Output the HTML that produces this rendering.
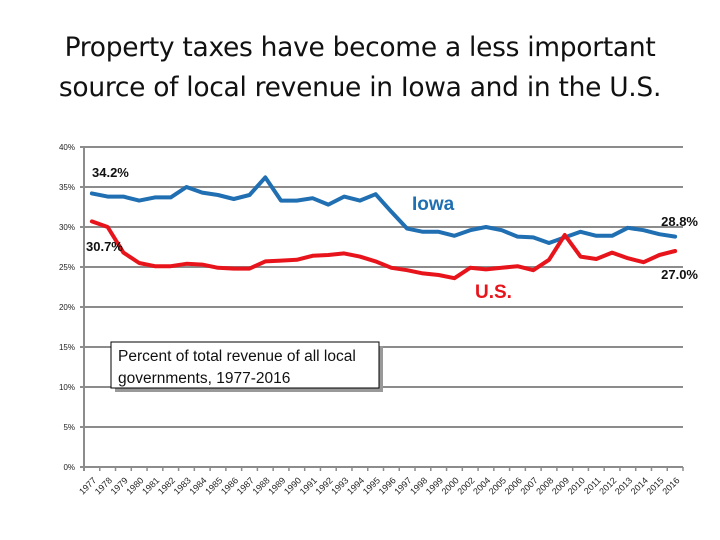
<!DOCTYPE html>
<html><head><meta charset="utf-8">
<style>
body{margin:0;background:#fff;}
#wrap{position:relative;width:720px;height:540px;overflow:hidden;font-family:"Liberation Sans",sans-serif;}
#title{position:absolute;left:0;top:28px;width:720px;text-align:center;font-family:"DejaVu Sans","Liberation Sans",sans-serif;font-size:26.5px;line-height:40px;color:#111;letter-spacing:-0.3px;}
</style></head>
<body>
<div id="wrap">
<div id="title">Property taxes have become a less important<br>source of local revenue in Iowa and in the U.S.</div>
<svg id="chart" width="720" height="540" style="position:absolute;left:0;top:0"></svg>
</div>
<script>
const years=['1977','1978','1979','1980','1981','1982','1983','1984','1985','1986','1987','1988','1989','1990','1991','1992','1993','1994','1995','1996','1997','1998','1999','2000','2002','2004','2005','2006','2007','2008','2009','2010','2011','2012','2013','2014','2015','2016'];
const iowa=[34.2,33.8,33.8,33.3,33.7,33.7,35.0,34.3,34.0,33.5,34.0,36.2,33.3,33.3,33.6,32.8,33.8,33.3,34.1,31.9,29.8,29.4,29.4,28.9,29.6,30.0,29.6,28.8,28.7,28.0,28.7,29.4,28.9,28.9,29.9,29.6,29.1,28.8];
const us=[30.7,30.0,26.8,25.5,25.1,25.1,25.4,25.3,24.9,24.8,24.8,25.7,25.8,25.9,26.4,26.5,26.7,26.3,25.7,24.9,24.6,24.2,24.0,23.6,24.9,24.7,24.9,25.1,24.6,25.9,29.0,26.3,26.0,26.8,26.1,25.6,26.5,27.0];
const yTicks=[0,5,10,15,20,25,30,35,40];
const NS='http://www.w3.org/2000/svg';
const svg=document.getElementById('chart');
const X0=84,X1=683,Y0=467,Y1=147;
const band=(X1-X0)/years.length;
function xs(i){return X0+(i+0.5)*band;}
function ys(v){return Y0-(v/40)*(Y0-Y1);}
function mk(t,a){const e=document.createElementNS(NS,t);for(const k in a)e.setAttribute(k,a[k]);svg.appendChild(e);return e;}
yTicks.forEach(v=>{
  const g=mk('line',{x1:X0-4,x2:X1,y1:ys(v),y2:ys(v),stroke:'#8c8c8c','stroke-width':2});
  
  
  const t=mk('text',{x:X0-9,y:ys(v)+3,'text-anchor':'end','font-size':8,fill:'#222','font-family':'Liberation Sans, sans-serif'});
  t.textContent=v+'%';
  
  
});
const ax=mk('line',{x1:X0,x2:X0,y1:Y1,y2:Y0+4,stroke:'#8c8c8c','stroke-width':2});


years.forEach((y,i)=>{
  const tk=mk('line',{x1:X0+(i+1)*band,x2:X0+(i+1)*band,y1:Y0,y2:Y0+4,stroke:'#8c8c8c','stroke-width':1.5});
  
  
  const cx=xs(i)+5,cy=Y0+14;
  const t=mk('text',{x:cx,y:cy,'text-anchor':'end','font-size':9,fill:'#222','font-family':'Liberation Sans, sans-serif',transform:`rotate(-45 ${cx} ${cy})`});
  t.textContent=y;
  
  
});
function line(data,color,name){
  const p=mk('polyline',{points:data.map((v,i)=>xs(i)+','+ys(v)).join(' '),fill:'none',stroke:color,'stroke-width':4,'stroke-linejoin':'round','stroke-linecap':'round'});
  
  
}
line(iowa,'#1f6fb2','iowa-line');
line(us,'#e8141b','us-line');
function lab(x,y,txt,size,color,name,anchor){
  const t=mk('text',{x:x,y:y,'font-size':size,'font-weight':'bold',fill:color,'font-family':'Liberation Sans, sans-serif','text-anchor':anchor||'start'});
  t.textContent=txt;
  
  
}
lab(92,177,'34.2%',13,'#111','label-iowa-start');
lab(86,251,'30.7%',13,'#111','label-us-start');
lab(412,210,'Iowa',19,'#1f6fb2','legend-iowa');
lab(475,298,'U.S.',19,'#e8141b','legend-us');
lab(698,226,'28.8%',13,'#111','label-iowa-end','end');
lab(698,279,'27.0%',13,'#111','label-us-end','end');
const sh=mk('rect',{x:115,y:346,width:268,height:46,fill:'#999'});


const bx=mk('rect',{x:111,y:342,width:268,height:46,fill:'#fff',stroke:'#000','stroke-width':1});


[['Percent of total revenue of all local',361],['governments, 1977-2016',383]].forEach(([s,y])=>{
  const t=mk('text',{x:118,y:y,'font-size':15.5,fill:'#111','font-family':'Liberation Sans, sans-serif'});
  t.textContent=s;
  
  
});
</script>
</body></html>
